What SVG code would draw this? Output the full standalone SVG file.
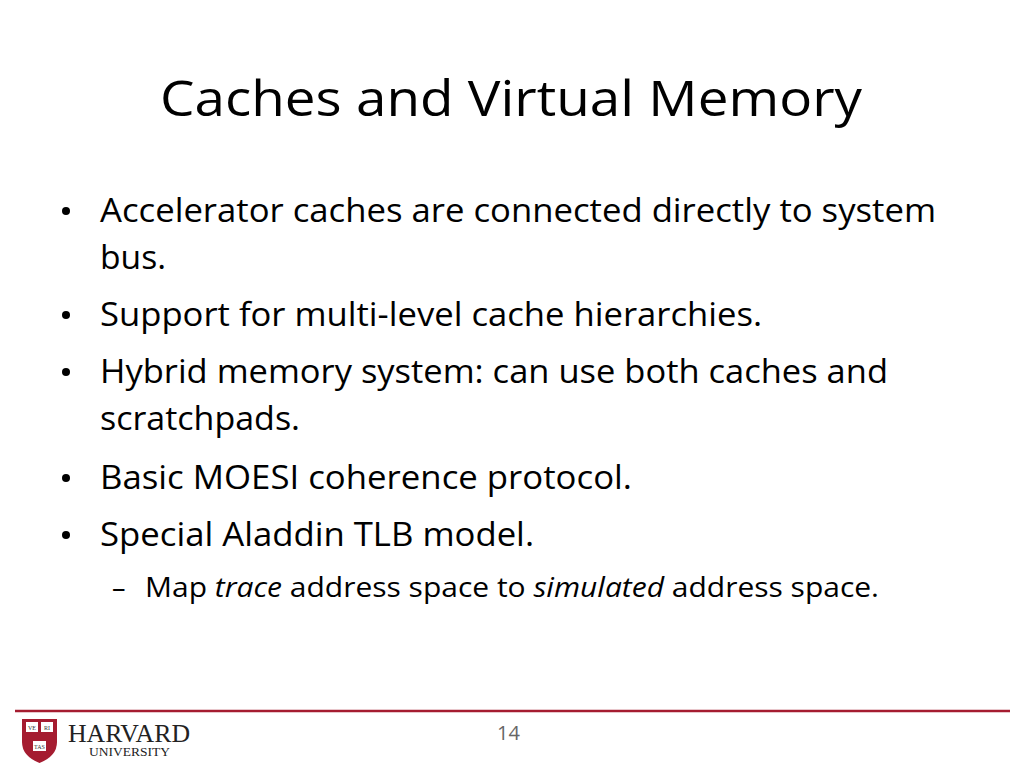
<svg xmlns="http://www.w3.org/2000/svg" width="1024" height="768" viewBox="0 0 1024 768">
<style>
text{font-family:"Open Sans","Noto Sans",sans-serif;fill:#000}
.b{font-size:32px}
.s{font-size:27px}
.h{font-family:"Liberation Serif",serif;fill:#222}
.bk{font-family:"Liberation Serif",serif;font-size:6px;fill:#333}
.d{fill:#000}
</style>
<rect width="1024" height="768" fill="#fff"/>
<text x="160" y="116" font-size="50" textLength="702" lengthAdjust="spacingAndGlyphs">Caches and Virtual Memory</text>
<g class="b">
<circle class="d" cx="66" cy="211" r="4"/>
<text x="100" y="222" textLength="836" lengthAdjust="spacingAndGlyphs">Accelerator caches are connected directly to system</text>
<text x="100" y="269" textLength="66" lengthAdjust="spacingAndGlyphs">bus.</text>
<circle class="d" cx="66" cy="315" r="4"/>
<text x="100" y="326" textLength="662" lengthAdjust="spacingAndGlyphs">Support for multi-level cache hierarchies.</text>
<circle class="d" cx="66" cy="372" r="4"/>
<text x="100" y="383" textLength="788" lengthAdjust="spacingAndGlyphs">Hybrid memory system: can use both caches and</text>
<text x="100" y="430" textLength="200" lengthAdjust="spacingAndGlyphs">scratchpads.</text>
<circle class="d" cx="66" cy="478" r="4"/>
<text x="100" y="489" textLength="532" lengthAdjust="spacingAndGlyphs">Basic MOESI coherence protocol.</text>
<circle class="d" cx="66" cy="535" r="4"/>
<text x="100" y="546" textLength="434" lengthAdjust="spacingAndGlyphs">Special Aladdin TLB model.</text>
</g>
<text class="s" x="112" y="597">–</text>
<text class="s" x="145" y="597" textLength="734" lengthAdjust="spacingAndGlyphs">Map <tspan font-style="italic">trace</tspan> address space to <tspan font-style="italic">simulated</tspan> address space.</text>
<line x1="15" y1="711" x2="1010" y2="711" stroke="#A51C30" stroke-width="2.5"/>
<g id="shield">
<path d="M22,719 H57 V742 Q57,756 39.5,763 Q22,756 22,742 Z" fill="#A51C30"/>
<rect x="26" y="722" width="12" height="10" fill="#fff"/><rect x="41" y="722" width="12" height="10" fill="#fff"/>
<rect x="33" y="741" width="13" height="10" fill="#fff"/>
<text class="bk" x="32" y="729.5" text-anchor="middle">VE</text><text class="bk" x="47" y="729.5" text-anchor="middle">RI</text><text class="bk" x="39.5" y="748.5" text-anchor="middle">TAS</text>
</g>
<text class="h" x="68" y="742" font-size="25" textLength="122" lengthAdjust="spacingAndGlyphs">HARVARD</text>
<text class="h" x="89" y="756" font-size="12" textLength="81" lengthAdjust="spacingAndGlyphs">UNIVERSITY</text>
<text x="497" y="740" font-size="20" style="fill:#666">14</text>
</svg>
